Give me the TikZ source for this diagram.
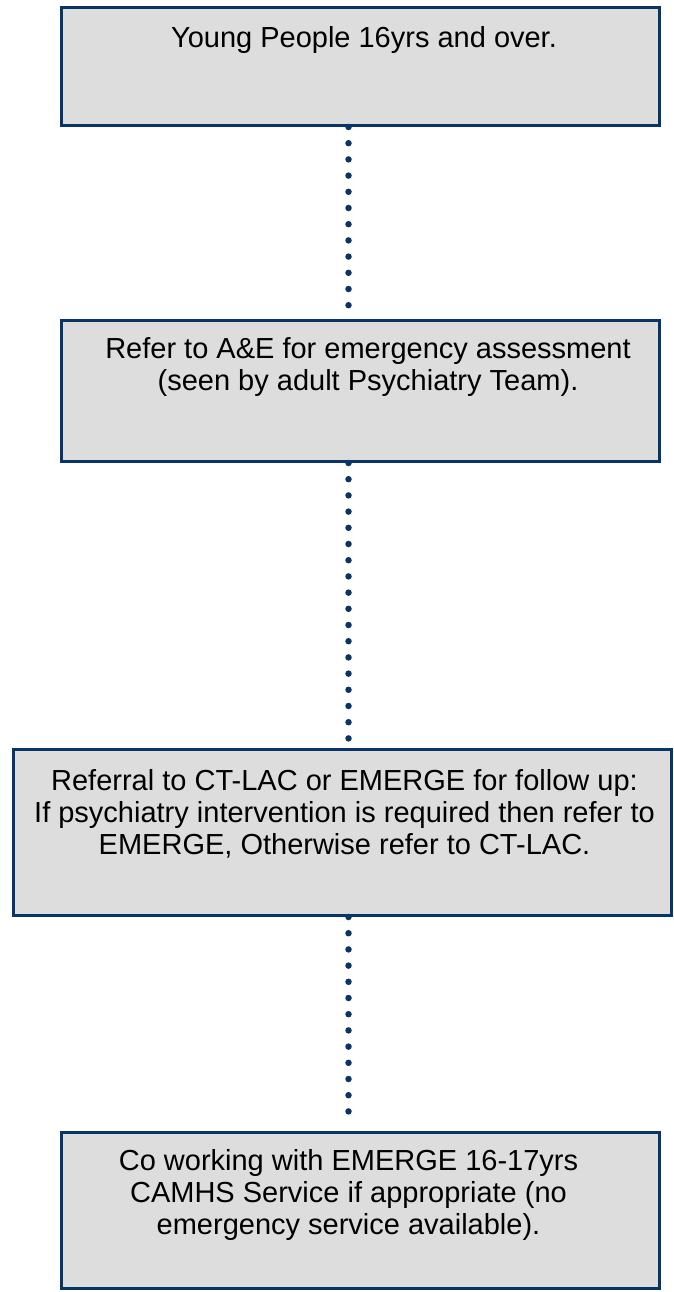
\documentclass[tikz,border=0pt]{standalone}
\usepackage{fontspec}
\setmainfont{Liberation Sans}
\definecolor{navy}{RGB}{8,52,102}
\definecolor{boxgray}{RGB}{221,221,221}

\begin{document}
\begin{tikzpicture}[x=1pt,y=-1pt,
    stage/.style={draw=navy, fill=boxgray, line width=3pt, inner sep=0pt},
    words/.style={anchor=north, align=center, inner sep=0pt,
                  font=\fontsize{29}{32}\selectfont},
    dotline/.style={navy, line width=6.5pt, line cap=round,
                    dash pattern=on 0pt off 16.2pt}]
  \useasboundingbox (0,0) rectangle (673,1292);
  \coordinate (spine) at (348.5,0);

  % the four stages, top to bottom
  \node[stage, minimum width=598pt, minimum height=118pt] (young) at (360.5,66.5) {};
  \node[stage, minimum width=598pt, minimum height=141pt] (ae) at (360.5,391) {};
  \node[stage, minimum width=658pt, minimum height=166pt] (referral) at (342.5,832.5) {};
  \node[stage, minimum width=598pt, minimum height=156pt] (cowork) at (360.5,1210.5) {};

  \node[words] (youngtxt) at (364,26) {Young People 16yrs and over.};
  \node[words] (aetxt) at (368,337) {Refer to A\&E for emergency assessment\\(seen by adult Psychiatry Team).};
  \node[words] (referraltxt) at (344.5,769) {Referral to CT-LAC or EMERGE for follow up:\\If psychiatry intervention is required then refer to\\EMERGE, Otherwise refer to CT-LAC.};
  \node[words] (coworktxt) at (348.5,1149) {Co working with EMERGE 16-17yrs\\CAMHS Service if appropriate (no\\emergency service available).};

  % dotted links down the spine
  \coordinate (r3) at ([yshift=8pt]referral.north -| spine);
  \coordinate (r4) at ([yshift=16pt]cowork.north -| spine);
  \draw[dotline] (young.south -| spine) -- (ae.north -| spine);
  \draw[dotline] (ae.south -| spine) -- (r3);
  \draw[dotline] (referral.south -| spine) -- (r4);
\end{tikzpicture}
\end{document}
